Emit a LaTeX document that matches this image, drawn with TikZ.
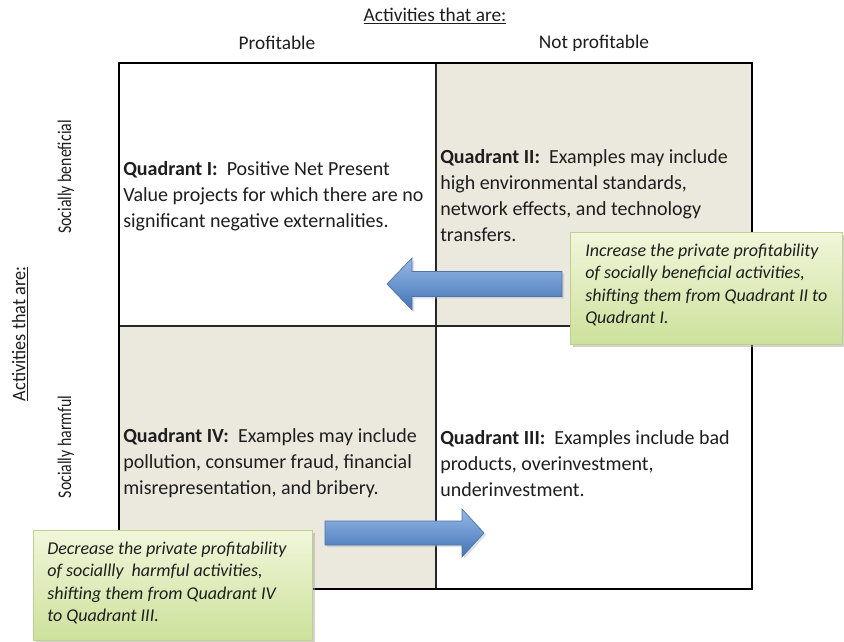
\documentclass[tikz,border=0pt]{standalone}
\usepackage{fontspec}
\usepackage{graphicx}
\setmainfont{Carlito}
\usetikzlibrary{shadows}
\definecolor{beige}{RGB}{235,232,222}
\definecolor{calltop}{RGB}{241,246,218}
\definecolor{callbot}{RGB}{205,225,155}
\definecolor{callbord}{RGB}{190,208,140}
\definecolor{arrtop}{RGB}{150,185,230}
\definecolor{arrbot}{RGB}{66,115,182}
\definecolor{arrbord}{RGB}{75,115,175}
\definecolor{txt}{RGB}{30,30,30}
\newcommand\quadfont{\fontsize{15}{19.5}\selectfont}
\newcommand\callfont{\fontsize{13.5}{16.9}\selectfont\itshape}
\newcommand\labfont{\fontsize{14.5}{17}\selectfont}
\tikzset{
  outerline/.style={line width=2.1pt, draw=black},
  innerline/.style={line width=1.3pt, draw=black!85},
  quadtext/.style={anchor=west, align=left, inner sep=0pt, font=\quadfont, text=txt},
  calltext/.style={anchor=west, align=left, inner sep=0pt, font=\callfont, text=txt},
  labtext/.style={inner sep=0pt, font=\labfont, text=txt},
  sidetext/.style={inner sep=0pt, font=\labfont, text=txt, rotate=90},
  callbox/.style={rectangle, anchor=north west, inner sep=0pt, top color=calltop, bottom color=callbot, draw=callbord, line width=0.6pt, drop shadow={shadow xshift=2pt, shadow yshift=-2pt, fill=black!35, opacity=0.5}},
  blockarrow/.style={top color=arrtop, bottom color=arrbot, draw=arrbord, line width=0.5pt, drop shadow={shadow xshift=1.5pt, shadow yshift=-1.5pt, fill=black!30, opacity=0.4}}
}
\begin{document}
\begin{tikzpicture}[x=0.75pt,y=-0.75pt]
\useasboundingbox (0,0) rectangle (844,642);
\fill[white] (0,0) rectangle (844,642);
% grid corners
\coordinate (TL) at (119,63);
\coordinate (TM) at (436,63);
\coordinate (TR) at (752,63);
\coordinate (ML) at (119,326);
\coordinate (MM) at (436,326);
\coordinate (MR) at (752,326);
\coordinate (BL) at (119,589);
\coordinate (BM) at (436,589);
\coordinate (BR) at (752,589);
\fill[beige] (TM) rectangle (MR);
\fill[beige] (ML) rectangle (BM);
\draw[innerline] (TM) -- (BM);
\draw[innerline] (ML) -- (MR);
\draw[outerline] (TL) rectangle (BR);
% header labels
\node[labtext] (toplab) at (435,16) {\underline{Activities that are:}};
\node[labtext] (prof) at (277,43) {Profitable};
\node[labtext] (notprof) at (594,43) {Not profitable};
\node[sidetext] (sidelab) at (20,334) {\scalebox{0.94}[1]{\underline{Activities that are:}}};
\node[sidetext] (benef) at (66,177) {\scalebox{0.82}[1]{Socially beneficial}};
\node[sidetext] (harm) at (66,447) {\scalebox{0.82}[1]{Socially harmful}};
% quadrant texts
\node[quadtext] (q1) at (123,196) {\textbf{Quadrant I:}\ \ Positive Net Present\\Value projects for which there are no\\significant negative externalities.};
\node[quadtext] (q2) at (440,195.5) {\textbf{Quadrant II:}\ \ Examples may include\\high environmental standards,\\network effects, and technology\\transfers.};
\node[quadtext] (q4) at (123,463.5) {\textbf{Quadrant IV:}\ \ Examples may include\\pollution, consumer fraud, financial\\misrepresentation, and bribery.};
\node[quadtext] (q3) at (440,463.5) {\textbf{Quadrant III:}\ \ Examples include bad\\products, overinvestment,\\underinvestment.};
% block arrows
\shade[blockarrow] (387,284) -- (412,258) -- (412,271.5) -- (562,271.5) -- (562,296.5) -- (412,296.5) -- (412,310) -- cycle;
\shade[blockarrow] (325,521) -- (462,521) -- (462,509) -- (484,533) -- (462,557) -- (462,545) -- (325,545) -- cycle;
% callouts
\node[callbox, minimum width=204pt, minimum height=84pt] (c1) at (570,232) {};
\node[calltext] (t1) at (585,285) {Increase the private profitability\\of socially beneficial activities,\\shifting them from Quadrant II to\\Quadrant I.};
\node[callbox, minimum width=209.25pt, minimum height=82.5pt] (c2) at (33,530) {};
\node[calltext] (t2) at (47,583) {Decrease the private profitability\\of sociallly\ \ harmful activities,\\shifting them from Quadrant IV\\to Quadrant III.};
\end{tikzpicture}
\end{document}
